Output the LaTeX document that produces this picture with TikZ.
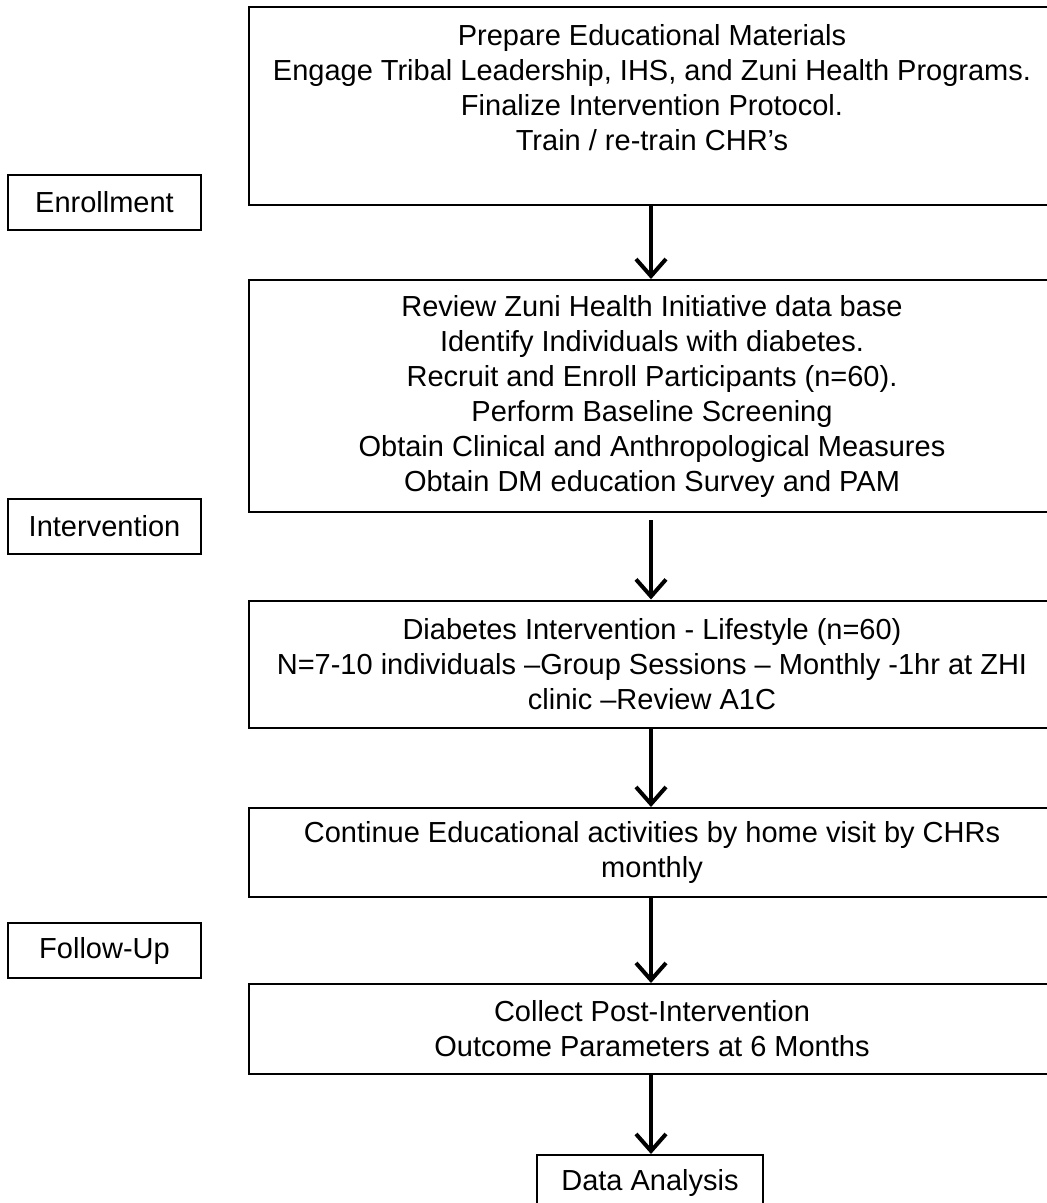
\documentclass[tikz,border=0pt]{standalone}
\usepackage{fontspec}
\setmainfont{Liberation Sans}
\usetikzlibrary{arrows.meta}
\begin{document}
\begin{tikzpicture}[x=1pt,y=-1pt,
  box/.style={draw=black, line width=2pt, rectangle, inner sep=0pt, minimum width=806pt},
  lbl/.style={draw=black, line width=2pt, rectangle, inner sep=0pt, minimum width=193pt, minimum height=55pt},
  txt/.style={align=center, font=\fontsize{29pt}{35pt}\selectfont, inner sep=0pt},
  arr/.style={line width=4pt, -{Straight Barb[length=17pt,width=30pt,line width=4pt]}}
]
\useasboundingbox (0,0) rectangle (1047,1203);
\clip (0,0) rectangle (1047,1203);
\fill[white] (0,0) rectangle (1047,1203);

% main boxes
\node[box, minimum height=198pt] (b1) at (652,106) {};
\node[txt] (t1) at (652,88) {Prepare Educational Materials\\Engage Tribal Leadership, IHS, and Zuni Health Programs.\\Finalize Intervention Protocol.\\Train / re-train CHR’s};

\node[box, minimum height=232pt, txt] (b2) at (652,396) {Review Zuni Health Initiative data base\\Identify Individuals with diabetes.\\Recruit and Enroll Participants (n=60).\\Perform Baseline Screening\\Obtain Clinical and Anthropological Measures\\Obtain DM education Survey and PAM};

\node[box, minimum height=127pt, txt] (b3) at (652,664) {Diabetes Intervention - Lifestyle (n=60)\\N=7-10 individuals –Group Sessions – Monthly -1hr at ZHI\\clinic –Review A1C};

\node[box, minimum height=89pt, txt] (b4) at (652,852.5) {Continue Educational activities by home visit by CHRs\\monthly};

\node[box, minimum height=90pt, txt] (b5) at (652,1029) {Collect Post-Intervention\\Outcome Parameters at 6 Months};

\node[draw=black, line width=2pt, rectangle, inner sep=0pt, minimum width=226pt, minimum height=70pt, anchor=north] (b6) at (650,1154) {};
\node[txt] (t6) at (650,1183) {Data Analysis};

% side labels
\node[lbl, txt] (l1) at (104.5,202.5) {Enrollment};
\node[lbl, txt] (l2) at (104.5,526) {Intervention};
\node[lbl, txt] (l3) at (104.5,950.5) {Follow-Up};

% arrows
\draw[arr] (b1.south -| 651,0) -- (b2.north -| 651,0);
\draw[arr, shorten <=7pt] (b2.south -| 651,0) -- (b3.north -| 651,0);
\draw[arr] (b3.south -| 651,0) -- (b4.north -| 651,0);
\draw[arr] (b4.south -| 651,0) -- (b5.north -| 651,0);
\draw[arr] (b5.south -| 651,0) -- (b6.north -| 651,0);
\end{tikzpicture}
\end{document}
